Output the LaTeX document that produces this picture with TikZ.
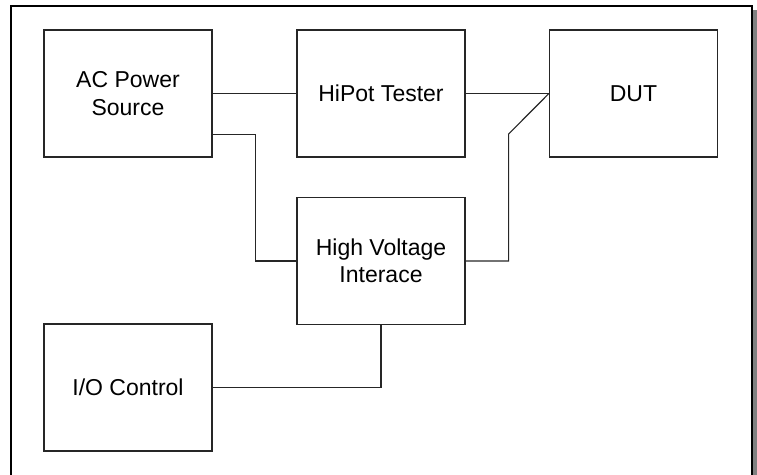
\documentclass[tikz,border=0pt]{standalone}
\usepackage{fontspec}
\setmainfont{Liberation Sans}
\begin{document}
\begin{tikzpicture}[x=1pt,y=-1pt,
  blk/.style={draw=black!85,line width=1.1pt,rectangle,inner sep=0pt,
    minimum width=168pt,minimum height=127pt,align=center,
    font=\fontsize{23}{27.5}\selectfont},
  wire/.style={draw=black!85,line width=1.1pt}]
\useasboundingbox (0,0) rectangle (757,474);
% outer frame with shadow
\fill[black!50] (753,10) rectangle (757,480);
\draw[line width=1.6pt] (11,480) -- (11,6) -- (752,6) -- (752,480);
% blocks
\node[blk] (ac) at (128,93.5) {AC Power\\Source};
\node[blk] (hipot) at (381,93.5) {HiPot Tester};
\node[blk] (dut) at (633.5,93.5) {DUT};
\node[blk] (hv) at (381,261) {High Voltage\\Interace};
\node[blk] (io) at (128,387.5) {I/O Control};
% connectors
\draw[wire] (ac.east) -- (hipot.west);
\draw[wire] (hipot.east) -- (dut.west);
\draw[wire] ([yshift=-41pt]ac.east) -- ++(43,0) |- (hv.west);
\draw[wire] (hv.east) -- ++(43,0) -- ++(0,-127) -- (dut.west);
\draw[wire] (io.east) -| (hv.south);
\end{tikzpicture}
\end{document}
